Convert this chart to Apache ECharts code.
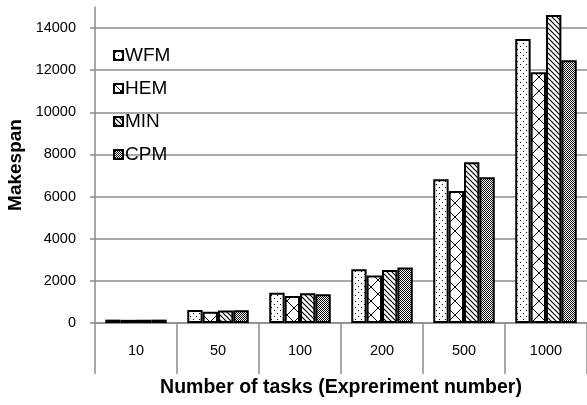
<!DOCTYPE html>
<html>
<head>
<meta charset="utf-8">
<script src="https://cdn.jsdelivr.net/npm/echarts@6/dist/echarts.min.js"></script>
<style>
    html, body { margin: 0; padding: 0; background: #fff; }
    #chart { width: 587px; height: 405px; }
</style>
</head>
<body>
<div id="chart"></div>
<script>
let categories = ['10', '50', '100', '200', '500', '1000'];
let seriesNames = ['WFM', 'HEM', 'MIN', 'CPM'];
let wfm = [160, 620, 1440, 2550, 6820, 13480];
let hem = [150, 530, 1280, 2250, 6265, 11900];
let min = [155, 590, 1410, 2515, 7625, 14620];
let cpm = [160, 600, 1360, 2640, 6915, 12470];
let yTicks = [0, 2000, 4000, 6000, 8000, 10000, 12000, 14000];

// hatch fills, drawn on small canvases
function makePattern(kind){
    let c = document.createElement('canvas');
    let ctx = c.getContext('2d');
    if(kind == 'dots'){
        c.width = 6; c.height = 6;
        ctx.fillStyle = '#fff';
        ctx.fillRect(0, 0, 6, 6);
        ctx.fillStyle = '#000';
        ctx.fillRect(1, 1, 1, 1);
        ctx.fillRect(4, 4, 1, 1);
    }
    if(kind == 'cross'){
        c.width = 14; c.height = 14;
        ctx.fillStyle = '#fff';
        ctx.fillRect(0, 0, 14, 14);
        ctx.strokeStyle = '#000';
        ctx.lineWidth = 1;
        ctx.beginPath();
        ctx.moveTo(0, 0); ctx.lineTo(14, 14);
        ctx.moveTo(14, 0); ctx.lineTo(0, 14);
        ctx.stroke();
    }
    if(kind == 'diag'){
        c.width = 5; c.height = 5;
        ctx.fillStyle = '#fff';
        ctx.fillRect(0, 0, 5, 5);
        ctx.strokeStyle = '#000';
        ctx.lineWidth = 1.2;
        ctx.beginPath();
        ctx.moveTo(-1, -1); ctx.lineTo(6, 6);
        ctx.moveTo(-1, 4); ctx.lineTo(1, 6);
        ctx.moveTo(4, -1); ctx.lineTo(6, 1);
        ctx.stroke();
    }
    if(kind == 'checker'){
        c.width = 2; c.height = 2;
        ctx.fillStyle = '#fff';
        ctx.fillRect(0, 0, 2, 2);
        ctx.fillStyle = '#111';
        ctx.fillRect(0, 0, 1, 1);
        ctx.fillRect(1, 1, 1, 1);
    }
    return { image: c, repeat: 'repeat' };
}

let fills = [makePattern('dots'), makePattern('cross'), makePattern('diag'), makePattern('checker')];
let values = [wfm, hem, min, cpm];

let font = '"Liberation Sans", Arial, sans-serif';
let gray = '#8c8c8c';

let chart = echarts.init(document.getElementById('chart'));
chart.setOption({
    animation: false,
    textStyle: { fontFamily: font },
    grid: {
        left: 95,
        right: 0,
        top: 7,
        bottom: 82,
        containLabel: false,
        outerBoundsMode: 'none'
    },
    legend: {
        orient: 'vertical',
        left: 108,
        top: 41,
        itemWidth: 9,
        itemHeight: 9,
        itemGap: 14,
        icon: 'rect',
        itemStyle: {
            borderColor: '#000',
            borderWidth: 2
        },
        textStyle: {
            fontFamily: font,
            fontSize: 19,
            lineHeight: 19,
            color: '#000',
            padding: [0, 0, 0, -3]
        },
        data: seriesNames
    },
    xAxis: {
        type: 'category',
        data: categories,
        name: 'Number of tasks (Expreriment number)',
        nameLocation: 'middle',
        nameGap: 55,
        nameTextStyle: {
            fontFamily: font,
            fontSize: 19.5,
            fontWeight: 'bold',
            color: '#000'
        },
        axisLine: { lineStyle: { color: gray, width: 1.5 } },
        axisTick: {
            show: true,
            interval: 0,
            length: 51,
            lineStyle: { color: gray, width: 1.5 }
        },
        axisLabel: {
            interval: 0,
            margin: 20,
            fontSize: 14.5,
            color: '#000'
        }
    },
    yAxis: {
        type: 'value',
        min: yTicks[0],
        max: 15000,
        interval: yTicks[1] - yTicks[0],
        name: 'Makespan',
        nameLocation: 'middle',
        nameGap: 69,
        nameRotate: 90,
        nameTextStyle: {
            fontFamily: font,
            fontSize: 19,
            fontWeight: 'bold',
            color: '#000'
        },
        axisLine: { show: true, lineStyle: { color: gray, width: 1.5 } },
        axisTick: {
            show: true,
            length: 5,
            lineStyle: { color: gray, width: 1.5 }
        },
        axisLabel: {
            margin: 19,
            fontSize: 14.5,
            color: '#000',
            showMaxLabel: false,
            formatter: (v) => String(v)
        },
        splitLine: {
            show: true,
            showMaxLine: false,
            lineStyle: { color: gray, width: 1.5 }
        }
    },
    series: seriesNames.map((name, i) => {
        return {
            name: name,
            type: 'bar',
            barGap: '0%',
            barCategoryGap: '25%',
            itemStyle: {
                color: fills[i],
                borderColor: '#000',
                borderWidth: 2
            },
            data: values[i]
        };
    })
});
</script>
</body>
</html>
